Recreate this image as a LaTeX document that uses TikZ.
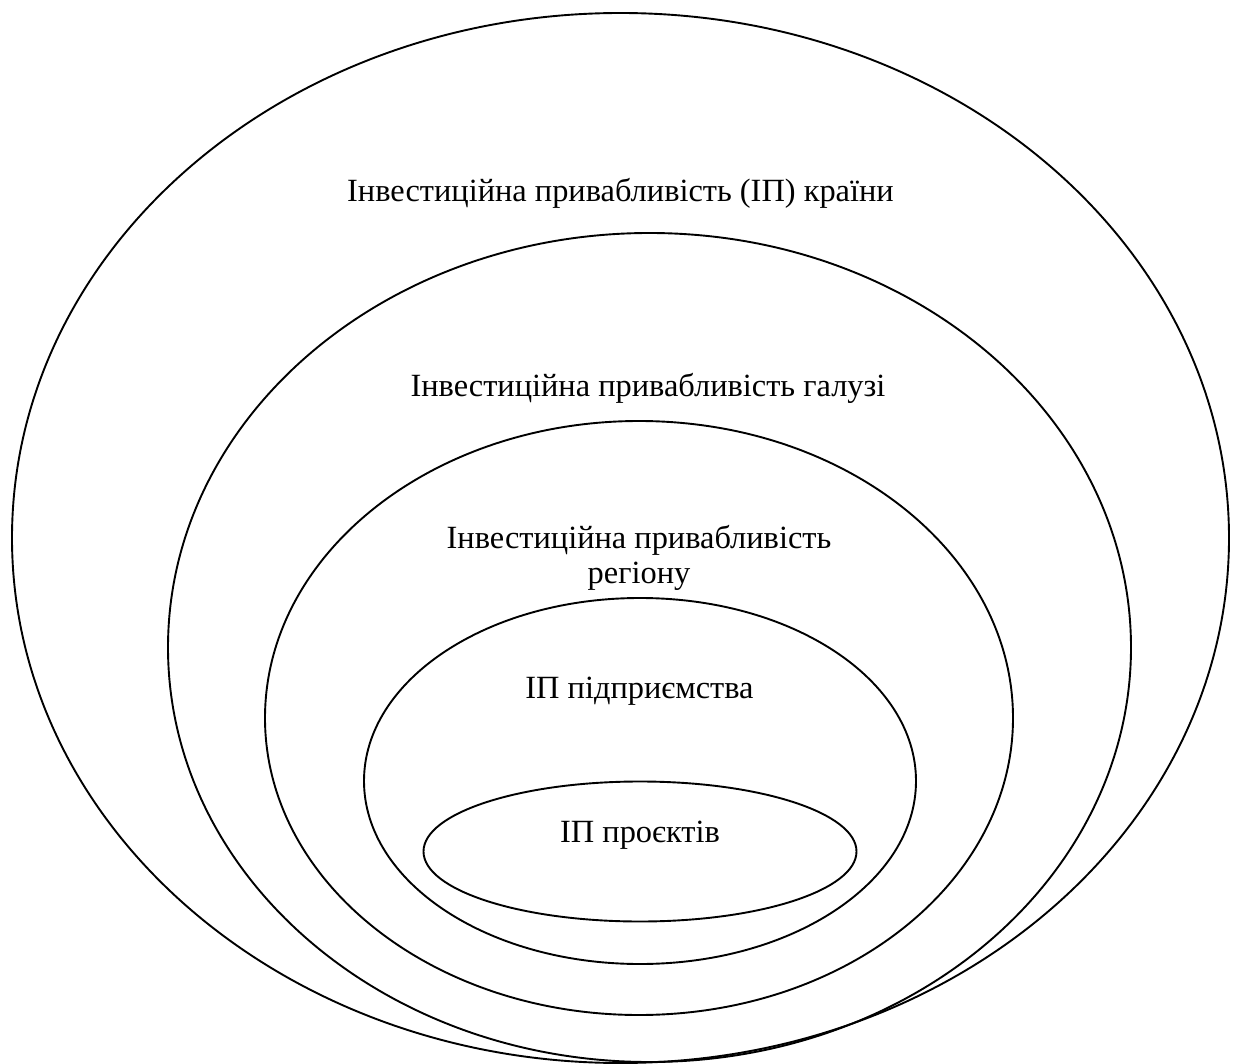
\documentclass[tikz,border=0pt]{standalone}
\usepackage{fontspec}
\setmainfont{Liberation Serif}
\newfontfamily\refserif{Liberation Serif}
\begin{document}
\begin{tikzpicture}[x=1pt,y=-1pt,
  ring/.style={draw=black,line width=1.9pt},
  lbl/.style={anchor=base,inner sep=0pt,font=\refserif\fontsize{32.4}{36}\selectfont,align=center}]
\useasboundingbox[fill=white] (0,0) rectangle (1234,1064);
\draw[ring] (620.5,538) ellipse [x radius=608.5,y radius=525];
\draw[ring] (649.5,647.5) ellipse [x radius=481.5,y radius=414.5];
\draw[ring] (639,718) ellipse [x radius=374,y radius=297];
\draw[ring] (640,781) ellipse [x radius=276,y radius=183];
\draw[ring] (640,851.5) ellipse [x radius=216.5,y radius=70];
\node[lbl] (country) at (620.5,202) {Інвестиційна привабливість (ІП) країни};
\node[lbl] (branch) at (648,396) {Інвестиційна привабливість галузі};
\node[lbl] (region) at (639,548) {Інвестиційна привабливість};
\node[lbl] (region2) at (639,583) {регіону};
\node[lbl] (firm) at (639.5,698) {ІП підприємства};
\node[lbl] (proj) at (640,842) {ІП проєктів};
\end{tikzpicture}
\end{document}
